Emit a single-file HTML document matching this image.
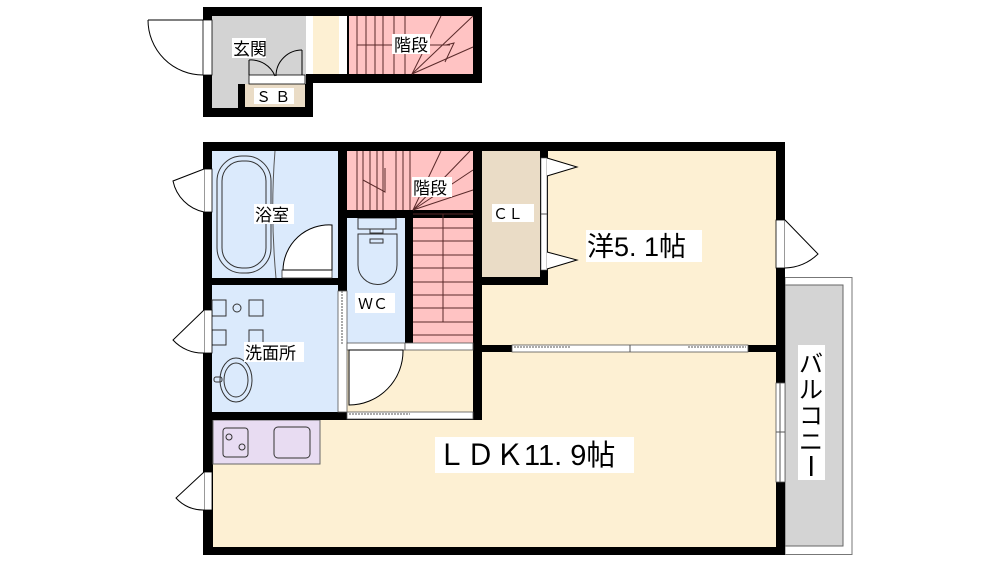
<!DOCTYPE html>
<html><head><meta charset="utf-8"><style>
html,body{margin:0;padding:0;background:#fff;width:1000px;height:562px;overflow:hidden}
text{font-family:"Liberation Sans","Noto Sans CJK JP",sans-serif}
</style></head><body>
<svg width="1000" height="562" viewBox="0 0 1000 562" xmlns="http://www.w3.org/2000/svg">
<!-- TOP ENTRANCE -->
<rect x="203" y="7" width="279" height="76" fill="#000"/>
<rect x="203" y="7" width="110" height="110" fill="#000"/>
<path d="M212 16 H306 V75 H306 V84 H238 V108 H212 Z" fill="#d3d3d3"/>
<rect x="245" y="84" width="60" height="23" fill="#eadcc6"/>
<rect x="249" y="75" width="56" height="9" fill="#fff" stroke="#000" stroke-width="0.8"/>
<line x1="249" y1="75" x2="249" y2="60" stroke="#000"/>
<path d="M249 60 A26 26 0 0 1 275 76" fill="none" stroke="#000"/>
<line x1="302" y1="75" x2="302" y2="50" stroke="#000"/>
<path d="M302 50 A26 26 0 0 0 276 76" fill="none" stroke="#000"/>
<rect x="306" y="16" width="7" height="58" fill="#fff"/>
<rect x="313" y="16" width="26" height="58" fill="#fdf0d3"/>
<rect x="339" y="16" width="8" height="58" fill="#fff"/>
<rect x="349" y="16" width="124" height="58" fill="#ffc3c3"/>
<g stroke="#5a2a2a" stroke-width="1">
<line x1="357" y1="16" x2="357" y2="74"/><line x1="366" y1="16" x2="366" y2="74"/><line x1="375" y1="16" x2="375" y2="74"/><line x1="383" y1="16" x2="383" y2="74"/><line x1="394" y1="16" x2="394" y2="74"/><line x1="405" y1="16" x2="405" y2="74"/>
<line x1="357" y1="45" x2="450" y2="45"/>
<line x1="412" y1="74" x2="441" y2="16"/><line x1="412" y1="74" x2="473" y2="16"/><line x1="412" y1="74" x2="473" y2="47"/>
<path d="M446 45 L454 43 L445 62" fill="none"/>
</g>
<rect x="203" y="20" width="9" height="55" fill="#fff" stroke="#000" stroke-width="0.8"/>
<path d="M203 20 H148 M203 75 A55 55 0 0 1 148 20" fill="none" stroke="#000"/>
<rect x="232" y="38" width="34" height="20" fill="#fff"/>
<text x="233" y="55" font-size="17">玄関</text>
<rect x="392" y="34" width="38" height="20" fill="#fff"/>
<text x="394" y="51" font-size="17">階段</text>
<rect x="254" y="88" width="40" height="16" fill="#fff"/>
<text x="256" y="102" font-size="15">Ｓ Ｂ</text>

<!-- BALCONY -->
<rect x="785" y="277.5" width="67" height="277" fill="#fff" stroke="#777" stroke-width="1"/>
<rect x="785" y="285" width="58" height="261" fill="#d4d4d4" stroke="#666" stroke-width="1"/>
<rect x="798" y="345" width="27" height="135" fill="#fff"/>
<text font-size="24" x="811" y="372" text-anchor="middle">バ</text>
<text font-size="24" x="811" y="398" text-anchor="middle">ル</text>
<text font-size="24" x="811" y="424" text-anchor="middle">コ</text>
<text font-size="24" x="811" y="450" text-anchor="middle">ニ</text>
<text font-size="24" x="811" y="476" text-anchor="middle" fill="#fff">.</text>
<rect x="810" y="456" width="2.5" height="20" fill="#000"/>

<!-- MAIN -->
<rect x="203" y="142" width="582" height="413" fill="#000"/>
<rect x="212" y="151" width="126" height="127" fill="#dbeafc"/>
<rect x="212" y="285" width="126" height="127" fill="#dbeafc"/>
<rect x="347" y="151" width="126" height="59" fill="#ffc3c3"/>
<rect x="347" y="218" width="58" height="125" fill="#dbeafc"/>
<rect x="413" y="218" width="60" height="125" fill="#ffc3c3"/>
<rect x="347" y="350" width="126" height="62" fill="#fdf0d3"/>
<rect x="482" y="151" width="58" height="126" fill="#eadcc6"/>
<path d="M548 151 H776 V345 H482 V285 H548 Z" fill="#fdf0d3"/>
<path d="M482 352 H776 V547 H213 V420 H482 Z" fill="#fdf0d3"/>
<!-- kitchen -->
<rect x="213" y="420" width="107" height="44" fill="#e8dcf2" stroke="#666" stroke-width="1"/>
<rect x="223" y="428" width="25" height="29" rx="3" fill="none" stroke="#333"/>
<circle cx="229" cy="437" r="3" fill="none" stroke="#333"/><circle cx="242" cy="447" r="3" fill="none" stroke="#333"/>
<rect x="274" y="427" width="36" height="31" rx="4" fill="none" stroke="#333"/>
<!-- bathtub -->
<rect x="217" y="156" width="54" height="117" rx="25" fill="none" stroke="#333"/>
<rect x="222" y="161" width="44" height="107" rx="20" fill="none" stroke="#333"/>
<path d="M275 151 Q270 214 276 278" fill="none" stroke="#555"/>
<!-- bath door -->
<rect x="282" y="270" width="50" height="8" fill="#fff" stroke="#333" stroke-width="0.8"/>
<path d="M332 270 V225 A46 46 0 0 0 283 270 Z" fill="#fff" stroke="#000"/>
<!-- wash basin etc -->
<g fill="none" stroke="#333">
<rect x="212" y="300" width="14" height="16"/><rect x="249" y="300" width="14" height="16"/>
<rect x="212" y="330" width="14" height="15"/><rect x="249" y="330" width="14" height="15"/>
<circle cx="237" cy="308" r="4"/>
<ellipse cx="236" cy="380" rx="16" ry="22"/><ellipse cx="236" cy="380" rx="12" ry="17"/>
<rect x="214" y="377" width="8" height="5" rx="2"/>
</g>
<!-- toilet -->
<g fill="#dbeafc" stroke="#333">
<rect x="358" y="218" width="38" height="11"/>
<rect x="370" y="229" width="13" height="4"/>
<path d="M358 234 H397 V265 A19 19 0 0 1 358 265 Z"/>
<rect x="370" y="239" width="13" height="4"/>
</g>
<!-- stairs lower floor -->
<g stroke="#5a2a2a" stroke-width="1">
<line x1="357" y1="151" x2="357" y2="210"/><line x1="363" y1="151" x2="363" y2="210"/><line x1="370" y1="151" x2="370" y2="210"/><line x1="377" y1="151" x2="377" y2="210"/><line x1="383" y1="151" x2="383" y2="210"/><line x1="396" y1="151" x2="396" y2="210"/><line x1="403" y1="151" x2="403" y2="210"/><line x1="410" y1="151" x2="410" y2="210"/>
<path d="M363 180 L385 192 L385 168" fill="none"/>
<line x1="413" y1="210" x2="441" y2="151"/><line x1="413" y1="210" x2="470" y2="151"/><line x1="413" y1="210" x2="473" y2="170"/><line x1="413" y1="210" x2="473" y2="190"/>
<line x1="413" y1="214" x2="473" y2="214"/><line x1="413" y1="228" x2="473" y2="228"/><line x1="413" y1="241" x2="473" y2="241"/><line x1="413" y1="255" x2="473" y2="255"/><line x1="413" y1="268" x2="473" y2="268"/><line x1="413" y1="282" x2="473" y2="282"/><line x1="413" y1="295" x2="473" y2="295"/><line x1="413" y1="308" x2="473" y2="308"/><line x1="413" y1="322" x2="473" y2="322"/><line x1="413" y1="335" x2="473" y2="335"/>
<line x1="443" y1="214" x2="443" y2="322"/>
</g>
<!-- walls overlay (inner) -->
<rect x="212" y="278" width="70" height="7" fill="#000"/><rect x="332" y="278" width="15" height="7" fill="#000"/>
<rect x="338" y="151" width="9" height="140" fill="#000"/>
<rect x="347" y="210" width="66" height="8" fill="#000"/>
<rect x="405" y="210" width="8" height="140" fill="#000"/>
<rect x="473" y="151" width="9" height="269" fill="#000"/>
<rect x="203" y="412" width="279" height="8" fill="#000"/>
<rect x="540" y="151" width="8" height="134" fill="#000"/><rect x="482" y="277" width="66" height="8" fill="#000"/>
<rect x="482" y="345" width="294" height="7" fill="#000"/>
<!-- wash/wc sliding -->
<rect x="338" y="291" width="9" height="121" fill="#fff" stroke="#555" stroke-width="0.8"/>
<line x1="342" y1="291" x2="342" y2="345" stroke="#555" stroke-dasharray="2,1"/>
<!-- WC door -->
<rect x="347" y="343" width="58" height="7" fill="#fff" stroke="#555" stroke-width="0.8"/>
<rect x="405" y="343" width="68" height="7" fill="#fff" stroke="#555" stroke-width="0.8"/>
<path d="M349 350 V405 A54 54 0 0 0 403 350 Z" fill="#fff" stroke="#000"/>
<!-- hall to LDK sliding -->
<rect x="347" y="412" width="126" height="7" fill="#fff" stroke="#555" stroke-width="0.8"/>
<line x1="349" y1="414" x2="410" y2="414" stroke="#555" stroke-dasharray="2,1"/>
<!-- western/LDK sliding -->
<rect x="512" y="345" width="236" height="7" fill="#fff" stroke="#555" stroke-width="0.8"/>
<line x1="630" y1="345" x2="630" y2="352" stroke="#555"/>
<line x1="514" y1="347" x2="570" y2="347" stroke="#555" stroke-dasharray="2,1"/>
<line x1="688" y1="347" x2="746" y2="347" stroke="#555" stroke-dasharray="2,1"/>
<!-- CL doors -->
<rect x="541" y="158" width="6" height="112" fill="#fff" stroke="#555" stroke-width="0.6"/>
<line x1="541" y1="214" x2="547" y2="214" stroke="#555"/>
<path d="M547 158 L577 167 L547 176" fill="#fff" stroke="#000"/>
<path d="M547 252 L577 260 L547 269" fill="#fff" stroke="#000"/>
<!-- right door -->
<rect x="776" y="220" width="9" height="48" fill="#fff" stroke="#000" stroke-width="0.8"/>
<path d="M785 220 L818 254 A50 50 0 0 1 785 268" fill="#fff" stroke="#000"/>
<!-- balcony window -->
<rect x="776" y="383" width="9" height="99" fill="#fff" stroke="#555" stroke-width="0.8"/>
<line x1="780" y1="383" x2="780" y2="482" stroke="#555"/>
<line x1="776" y1="432" x2="785" y2="432" stroke="#555"/>
<!-- left doors -->
<g fill="#fff" stroke="#000">
<rect x="204" y="169" width="8" height="43" stroke-width="0.8"/>
<path d="M204 169 L173 181 A40 40 0 0 0 204 212"/>
<rect x="204" y="310" width="8" height="43" stroke-width="0.8"/>
<path d="M204 310 L173 340 A40 40 0 0 0 204 353"/>
<rect x="204" y="472" width="8" height="38" stroke-width="0.8"/>
<path d="M204 472 L176 498 A36 36 0 0 0 204 510"/>
</g>
<!-- labels -->
<rect x="254" y="204" width="40" height="20" fill="#fff"/>
<text x="255" y="221" font-size="17">浴室</text>
<rect x="244" y="342" width="60" height="20" fill="#fff"/>
<text x="245" y="359" font-size="17">洗面所</text>
<rect x="355" y="293" width="40" height="20" fill="#fff"/>
<text x="358" y="309" font-size="15">ＷＣ</text>
<rect x="412" y="177" width="40" height="20" fill="#fff"/>
<text x="413" y="194" font-size="17">階段</text>
<rect x="492" y="204" width="42" height="18" fill="#fff"/>
<text x="493" y="219" font-size="15">ＣＬ</text>
<rect x="586" y="230" width="116" height="32" fill="#fff"/>
<text x="587" y="256" font-size="27">洋5. 1帖</text>
<rect x="435" y="437" width="199" height="36" fill="#fff"/>
<text x="437" y="465" font-size="29">ＬＤＫ11. 9帖</text>
</svg>
</body></html>
